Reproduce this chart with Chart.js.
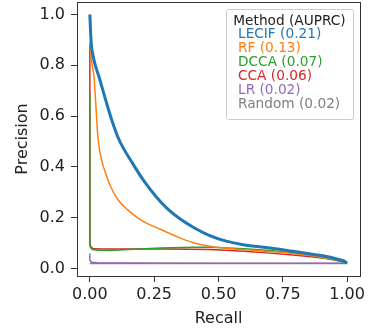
<!DOCTYPE html>
<html>
<head>
<meta charset="utf-8">
<script src="https://cdn.jsdelivr.net/npm/chart.js@4"></script>
<style>
  html, body { margin: 0; padding: 0; background: #fff; }
  #wrap { width: 372px; height: 333px; }
</style>
</head>
<body>
<div id="wrap"><canvas id="graph"></canvas></div>
<script>
const xTicks = [0, 0.25, 0.5, 0.75, 1.0];
const yTicks = [0, 0.2, 0.4, 0.6, 0.8, 1.0];

const lecifX = [0, 0.002, 0.005, 0.012, 0.022, 0.035, 0.061, 0.085, 0.113, 0.165, 0.21, 0.256, 0.3, 0.354, 0.41, 0.466, 0.53, 0.596, 0.7, 0.79, 0.87, 0.92, 0.96, 0.985, 1.0];
const lecifY = [1.0, 0.95, 0.89, 0.84, 0.797, 0.756, 0.665, 0.585, 0.508, 0.416, 0.345, 0.285, 0.237, 0.193, 0.158, 0.13, 0.108, 0.094, 0.081, 0.068, 0.056, 0.048, 0.038, 0.031, 0.022];

const rfX = [0, 0.005, 0.01, 0.016, 0.022, 0.031, 0.04, 0.05, 0.063, 0.08, 0.11, 0.146, 0.2, 0.276, 0.34, 0.406, 0.466, 0.595, 0.7, 0.79, 0.87, 0.92, 0.96, 1.0];
const rfY = [0.89, 0.835, 0.795, 0.757, 0.665, 0.52, 0.455, 0.41, 0.37, 0.324, 0.27, 0.232, 0.19, 0.154, 0.125, 0.101, 0.088, 0.075, 0.067, 0.059, 0.05, 0.042, 0.034, 0.022];

const dccaX = [0, 0, 0.003, 0.01, 0.03, 0.08, 0.15, 0.276, 0.4, 0.47, 0.6, 0.7, 0.79, 0.86, 0.92, 0.96, 1.0];
const dccaY = [0.69, 0.09, 0.082, 0.075, 0.072, 0.071, 0.075, 0.081, 0.084, 0.084, 0.078, 0.071, 0.062, 0.052, 0.04, 0.032, 0.022];

const ccaX = [0, 0, 0.004, 0.015, 0.05, 0.15, 0.3, 0.466, 0.6, 0.7, 0.79, 0.86, 0.92, 0.96, 1.0];
const ccaY = [0.88, 0.10, 0.085, 0.078, 0.077, 0.077, 0.077, 0.075, 0.068, 0.061, 0.054, 0.047, 0.04, 0.033, 0.022];

const lrX = [0, 0, 0.003, 0.01, 0.03, 0.1, 0.5, 1.0];
const lrY = [0.06, 0.035, 0.028, 0.025, 0.023, 0.022, 0.021, 0.021];

const randomX = [0, 1.0];
const randomY = [0.02, 0.02];

const methods = ["LECIF (0.21)", "RF (0.13)", "DCCA (0.07)", "CCA (0.06)", "LR (0.02)", "Random (0.02)"];
const colors = ["#1f77b4", "#ff7f0e", "#2ca02c", "#d62728", "#9467bd", "#7f7f7f"];
const seriesX = [lecifX, rfX, dccaX, ccaX, lrX, randomX];
const seriesY = [lecifY, rfY, dccaY, ccaY, lrY, randomY];

const FONT = "'DejaVu Sans', sans-serif";

const datasets = methods.map((name, i) => ({
  label: name,
  data: seriesX[i].map((x, j) => ({ x: x, y: seriesY[i][j] })),
  borderColor: colors[i],
  backgroundColor: colors[i],
  borderWidth: i === 0 ? 3 : 1.5,
  pointRadius: 0,
  // the two curves with strictly increasing x get a smooth monotone spline
  cubicInterpolationMode: i < 2 ? "monotone" : "default",
  tension: 0,
  fill: false,
}));

// matplotlib-like frame and legend box inside the axes
const framePlugin = {
  id: "frame",
  afterDatasetsDraw(chart) {
    const { ctx, chartArea: a } = chart;
    ctx.save();
    ctx.strokeStyle = "#333";
    ctx.lineWidth = 1;
    ctx.strokeRect(Math.round(a.left) + 0.5, Math.round(a.top) + 0.5,
      Math.round(a.right - a.left), Math.round(a.bottom - a.top));

    // legend
    const bx = 226, by = 9, bw = 127, bh = 110;
    ctx.fillStyle = "rgba(255,255,255,0.8)";
    ctx.strokeStyle = "#cccccc";
    ctx.beginPath();
    ctx.roundRect(bx + 0.5, by + 0.5, bw, bh, 2);
    ctx.fill();
    ctx.stroke();
    ctx.font = "13.7px " + FONT;
    ctx.textBaseline = "middle";
    ctx.textAlign = "center";
    ctx.fillStyle = "#222";
    ctx.fillText("Method (AUPRC)", bx + bw / 2, 21);
    ctx.textAlign = "left";
    methods.forEach((m, i) => {
      ctx.fillStyle = colors[i];
      ctx.fillText(m, 238, 34.5 + i * 13.9);
    });
    ctx.restore();
  },
};

const config = {
  type: "line",
  data: { datasets },
  plugins: [framePlugin],
  options: {
    responsive: true,
    maintainAspectRatio: false,
    animation: false,
    layout: { padding: { left: 0, top: 2, right: 12, bottom: 0 } },
    plugins: {
      legend: { display: false },
      tooltip: { enabled: false },
    },
    scales: {
      x: {
        type: "linear",
        min: -0.05,
        max: 1.05,
        afterBuildTicks: (s) => { s.ticks = xTicks.map((v) => ({ value: v })); },
        afterFit: (s) => { s.height = 57; s.paddingLeft = 0; s.paddingRight = 0; },
        grid: { drawOnChartArea: false, drawTicks: true, tickLength: 6, tickColor: "#333" },
        border: { display: false },
        ticks: {
          color: "#222",
          font: { family: FONT, size: 16 },
          padding: 3,
          maxRotation: 0,
          callback: (v) => Number(v).toFixed(2),
        },
        title: {
          display: true,
          text: "Recall",
          color: "#222",
          font: { family: FONT, size: 16 },
          padding: { top: 0, bottom: 5 },
        },
      },
      y: {
        type: "linear",
        min: -0.029,
        max: 1.049,
        afterBuildTicks: (s) => { s.ticks = yTicks.map((v) => ({ value: v })); },
        afterFit: (s) => { s.width = 77; s.paddingTop = 0; s.paddingBottom = 0; },
        grid: { drawOnChartArea: false, drawTicks: true, tickLength: 6, tickColor: "#333" },
        border: { display: false },
        ticks: {
          color: "#222",
          font: { family: FONT, size: 16 },
          padding: 6,
          callback: (v) => Number(v).toFixed(1),
        },
        title: {
          display: true,
          text: "Precision",
          color: "#222",
          font: { family: FONT, size: 16 },
          padding: { top: 13, bottom: 0 },
        },
      },
    },
  },
};

new Chart(document.getElementById("graph"), config);
</script>
</body>
</html>
